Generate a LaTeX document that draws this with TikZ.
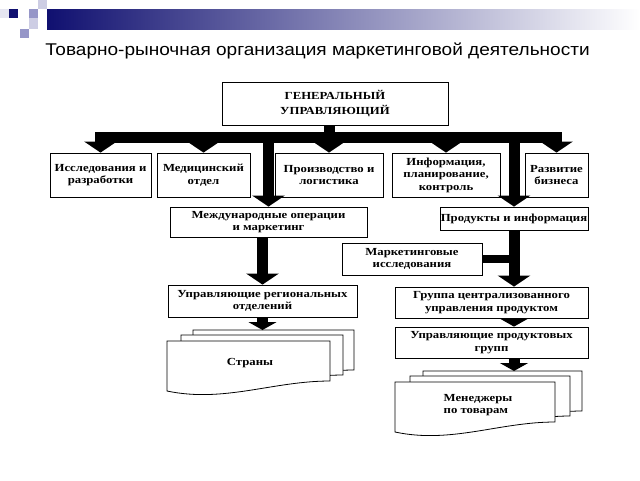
\documentclass[tikz,border=0pt]{standalone}
\usepackage{fontspec}
\setmainfont{Liberation Serif}
\newfontfamily\titlefont[FakeStretch=1.12]{Liberation Sans}
\newfontfamily\boxfont[FakeStretch=1.18,UprightFont={* Bold}]{Liberation Serif}
\usepackage{tikz}
\usetikzlibrary{arrows.meta}
\usetikzlibrary{calc}

\definecolor{navy}{RGB}{16,16,112}
\definecolor{lav}{RGB}{150,150,200}
\definecolor{palelav}{RGB}{205,205,228}

% one sheet of a paper stack: left, top, width
\newcommand{\docsheet}[3]{%
  \draw[sheet] (#1,#2) -- ++(#3,0) -- ++(0,40)
    .. controls +(-0.35*#3,0) and +(0.35*#3,12) .. (#1,#2+50) -- cycle;}

\begin{document}
\begin{tikzpicture}[x=1pt, y=-1pt,
    every node/.style={font=\boxfont\fontsize{10.8}{12.5}\selectfont},
    box/.style={draw, line width=0.8pt, inner sep=0pt, align=center},
    fat/.style={line width=11pt, -{Triangle[width=32pt,length=11pt]}},
    fatshort/.style={line width=11pt, -{Triangle[width=28pt,length=8pt]}},
    sheet/.style={draw, fill=white, line width=0.8pt}]

\useasboundingbox (0,0) rectangle (640,480);

% Header
\shade[left color=navy, right color=white] (47,9) rectangle (640,29);
\fill[palelav!50] (0,9) rectangle (9,18);
\fill[navy] (9,9) rectangle (18,18);
\fill[lav] (29,9) rectangle (38,18);
\fill[palelav] (38,0) rectangle (47,9);
\fill[palelav] (29,18) rectangle (38,29);
\fill[lav] (20,29) rectangle (29,38);
\node[font=\titlefont\fontsize{17}{19}\selectfont, anchor=base] (title) at (317.5,55)
  {Товарно-рыночная организация маркетинговой деятельности};

% Nodes
\node[box, minimum width=226pt, minimum height=43pt, font=\boxfont\fontsize{10.8}{15}\selectfont] (gen) at (335,103.5) {ГЕНЕРАЛЬНЫЙ\\УПРАВЛЯЮЩИЙ};
\node[box, minimum width=101pt, minimum height=44pt] (res) at (100.5,175) {Исследования и\\разработки};
\node[box, minimum width=93pt, minimum height=44pt] (med) at (203.5,175) {Медицинский\\отдел};
\node[box, minimum width=108pt, minimum height=44pt] (prod) at (329,175) {Производство и\\логистика};
\node[box, minimum width=108pt, minimum height=44pt] (info) at (446,175) {Информация,\\планирование,\\контроль};
\node[box, minimum width=63pt, minimum height=44pt] (razv) at (556.5,175) {Развитие\\бизнеса};
\node[box, minimum width=197pt, minimum height=30pt] (intl) at (268.5,222) {Международные операции\\и маркетинг};
\node[box, minimum width=148pt, minimum height=23pt] (prodinfo) at (514,218.5) {Продукты и информация};
\node[box, minimum width=140pt, minimum height=32pt] (mrkt) at (412,259) {Маркетинговые\\исследования};
\node[box, minimum width=189pt, minimum height=32pt] (upreg) at (262.5,301) {Управляющие региональных\\отделений};
\node[box, minimum width=193pt, minimum height=31pt] (grp) at (491.5,302.5) {Группа централизованного\\управления продуктом};
\node[box, minimum width=193pt, minimum height=31pt] (upprod) at (491.5,342.5) {Управляющие продуктовых\\групп};

% Paper stacks
\docsheet{193}{330}{161}
\docsheet{181}{335}{162}
\docsheet{167}{341}{163}
\node (strany) at (250,363) {Страны};
\coordinate (stranytop) at (262.5,330);

\docsheet{423}{371}{159}
\docsheet{410}{376}{160}
\docsheet{395}{382}{160}
\node[align=left] (menedzhery) at (478,405) {Менеджеры\\по товарам};
\coordinate (mentop) at (514,371);

% Arrows
\draw[fat] (prod.north |- gen.south) -- (prod.north);
\foreach \t in {res,med,intl,info,razv,prodinfo}
  \draw[fat] (prod.north |- gen.south) -- ++(0,12) -| (\t.north);
\draw[line width=8pt] (mrkt.east) -- (mrkt.east -| prodinfo.south);
\draw[fat] (prodinfo.south) -- (prodinfo.south |- grp.north);
\draw[fat] (upreg.north |- intl.south) -- (upreg.north);
\draw[fatshort] (upreg.south) -- (stranytop);
\draw[fatshort] (grp.south -| prodinfo.south) -- (upprod.north -| prodinfo.south);
\draw[fatshort] (upprod.south -| prodinfo.south) -- (mentop);
\end{tikzpicture}
\end{document}
